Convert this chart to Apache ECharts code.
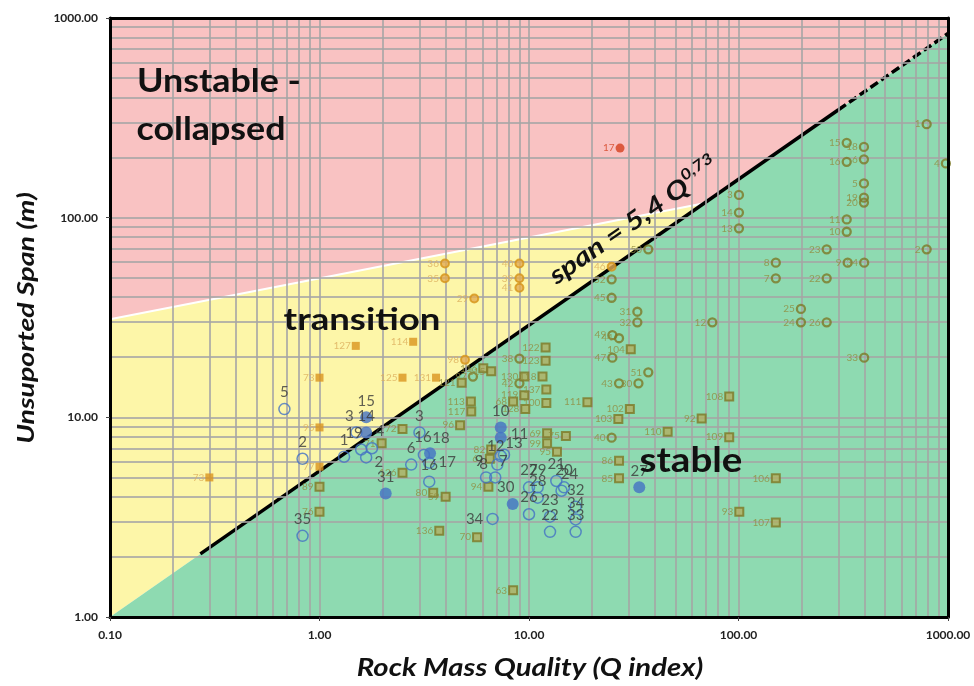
<!DOCTYPE html>
<html>
<head>
<meta charset="utf-8">
<title>Unsupported span vs Q</title>
<script src="https://cdn.jsdelivr.net/npm/echarts@6/dist/echarts.min.js"></script>
<style>
  html, body { margin: 0; padding: 0; background: #fff; }
  #chart { width: 974px; height: 686px; }
</style>
</head>
<body>
<div id="chart"></div>
<script>
// open blue case points (Q, span, label)
const openQ = [0.68, 0.83, 0.83, 1.31, 1.5, 1.58, 1.78, 1.67, 3.0, 2.74, 3.15, 3.34, 3.34, 6.7, 6.24, 6.9, 7.06, 7.33, 7.6,
  10.0, 11.0, 11.0, 10.0, 12.6, 12.6, 13.5, 14.7, 14.3, 16.7, 16.7, 16.7];
const openS = [11.0, 6.2, 2.55, 6.35, 8.4, 6.9, 7.0, 6.3, 8.4, 5.8, 6.48, 5.93, 4.76, 3.1, 5.0, 5.0, 5.8, 6.4, 6.5,
  4.46, 4.46, 3.96, 3.27, 3.18, 2.67, 4.8, 4.46, 4.29, 3.57, 3.08, 2.67];
const openLabels = ['5', '2', '35', '1', '3', '19', '4', '2', '3', '6', '18', '17', '16', '34', '9', '7', '8', '12', '13',
  '27', '29', '28', '26', '23', '22', '21', '20', '24', '32', '34', '33'];
const openPlace = ['t', 't', 't', 't', 'tl', 'tl', 'tr', 'br', 't', 't', 'trr', 'r', 't', 'l', 'tl', 'tr', 'l', 'nl', 'nr',
  't', 't', 't', 't', 't', 't', 't', 't', 'tr', 't', 't', 't'];

// filled blue case points
const filledQ = [1.67, 1.67, 3.37, 2.07, 7.33, 7.33, 8.36, 33.6];
const filledS = [10.0, 8.4, 6.6, 4.16, 8.9, 7.9, 3.68, 4.46];
const filledLabels = ['15', '14', '16', '31', '10', '11', '30', '27'];
const filledPlace = ['t', 't', 'tl', 't', 't', 'ru', 'tl', 't'];

// background database points, transition zone
const yCircQ = [3.97, 3.97, 5.48, 9.0, 9.0, 9.0, 24.8, 4.95];
const yCircS = [59, 49.7, 39.4, 59, 49.7, 44.6, 56.8, 19.4];
const yCircLabels = ['36', '35', '29', '40', '39', '41', '46', '98'];
const ySqQ = [1.49, 2.8, 2.49, 3.6, 1.0, 1.0, 1.0, 0.298];
const ySqS = [22.8, 23.9, 15.8, 15.8, 15.8, 8.9, 5.66, 5.0];
const ySqLabels = ['127', '114', '125', '131', '73', '95', '77', '73'];

// background database points, stable zone
const gCircQ = [37.1, 24.8, 24.8, 32.9, 32.9, 25.0, 26.9, 25.0, 37.1, 26.9, 33.3, 75, 150.7, 150.7, 263.6, 263.6,
  198.6, 198.6, 263.6, 332, 398, 398, 791, 328.5, 397, 328.5, 397, 977, 397, 397, 397, 100.5, 100.5, 100.5,
  328.5, 328.5, 791, 24.8, 9.0, 9.0, 5.4];
const gCircS = [69.4, 49.1, 39.7, 33.8, 29.9, 25.8, 24.9, 19.9, 16.8, 14.8, 14.8, 29.9, 59.5, 49.7, 69.4, 49.7,
  34.9, 29.9, 29.9, 59.5, 59.5, 19.9, 294, 237, 226, 190.5, 196, 187, 148.5, 126, 119, 130, 106, 88.4,
  98, 85, 69.4, 7.91, 19.7, 14.8, 16];
const gCircLabels = ['50', '52', '45', '31', '32', '49', '44', '47', '51', '43', '30', '12', '8', '7', '23', '22',
  '25', '24', '26', '9', '34', '33', '1', '15', '18', '16', '6', '4', '5', '19', '20', '3', '14', '13',
  '11', '10', '2', '40', '38', '42', '97'];
const gSqQ = [30.6, 19.0, 30.3, 26.7, 45.9, 66.7, 90.3, 90.3, 26.9, 26.9, 150.7, 100.9, 150.7, 12.0, 12.0, 9.5,
  11.6, 12.1, 9.5, 8.4, 12.1, 9.6, 5.28, 6.05, 6.6, 4.77, 5.3, 2.49, 1.98, 2.49, 3.49, 4.0, 3.73, 5.65, 8.4,
  1.0, 1.0, 12.2, 15.0, 12.2, 13.6, 6.4, 4.69, 6.6, 6.5];
const gSqS = [21.9, 11.9, 11.0, 9.8, 8.47, 9.88, 12.7, 7.95, 6.06, 4.95, 4.95, 3.37, 2.97, 22.4, 19.2, 16,
  16, 13.8, 12.9, 12.0, 11.8, 11.0, 12.0, 17.6, 17.0, 14.9, 10.7, 8.74, 7.41, 5.28, 4.19, 4.0, 2.7, 2.51, 1.36,
  4.49, 3.37, 8.32, 8.06, 7.41, 6.73, 4.49, 9.13, 6.9, 6.2];
const gSqLabels = ['104', '111', '102', '103', '110', '92', '108', '109', '86', '85', '106', '93', '107', '122', '123', '130',
  '118', '137', '119', '68', '100', '128', '113', '116', '115', '121', '117', '72', '71', '126', '80', '59', '136', '70', '63',
  '89', '76', '69', '75', '99', '95', '94', '96', '82', '61'];

// collapsed case
const redQ = [27.2];
const redS = [223];
const redLabels = ['17'];

// design line span = 5.4 Q^0.73
const lineQ = [0.27, 300, 1000];
const lineS = [2.07, 347, 836];

// zone corners
const redYellowQ = [0.1, 68.6];
const redYellowS = [31, 118];

const xTicks = [0.1, 1, 10, 100, 1000];
const yTicks = [1, 10, 100, 1000];

const FONT = 'Lato, "Open Sans", "Noto Sans", sans-serif';
const chart = echarts.init(document.getElementById('chart'));

function pts(q, s, labels) {
  return q.map((v, i) => ({ value: [v, s[i]], name: labels ? labels[i] : '' }));
}

function zone(points, color) {
  return {
    type: 'custom',
    silent: true,
    z: 1,
    clip: true,
    data: [[1, 1]],
    renderItem: (params, api) => ({
      type: 'polygon',
      shape: { points: points.map((p) => api.coord(p)) },
      style: { fill: color },
    }),
  };
}

// grid lines at every log step
const xGrid = [];
for (let d = 0.1; d < 999; d *= 10) for (let k = 1; k < 10; k++) if (!(d === 0.1 && k === 1)) xGrid.push(+(k * d).toFixed(2));
const yGrid = [];
for (let d = 1; d < 999; d *= 10) for (let k = 1; k < 10; k++) if (!(d === 1 && k === 1)) yGrid.push(k * d);

const place = {
  t: { position: 'top', distance: 3 },
  tl: { position: 'top', distance: 3, offset: [-7, 0] },
  tr: { position: 'top', distance: 3, offset: [8, 0] },
  trr: { position: 'top', distance: 3, offset: [17, 0] },
  nl: { position: 'top', distance: -4, offset: [-5, 0] },
  nr: { position: 'top', distance: -2, offset: [10, 0] },
  l: { position: 'left', distance: 3 },
  r: { position: 'right', distance: 3 },
  ru: { position: 'right', distance: 4, offset: [0, -4] },
  br: { position: 'right', distance: 2, offset: [0, 5] },
};

function blueData(q, s, labels, where) {
  return q.map((v, i) => ({ value: [v, s[i]], name: labels[i], label: place[where[i]] }));
}

const bgLabel = (color) => ({
  show: true, position: 'left', distance: 1, formatter: '{b}',
  fontSize: 10, color: color, fontFamily: FONT,
});

const blueLabel = {
  show: true, formatter: '{b}', fontSize: 15, color: '#3a3a3a', fontFamily: FONT,
};

const yelCorner = [redYellowQ[0], 1];

function bigText(x, y, text, size, sx) {
  return {
    type: 'text', z: 30, x: x, y: y, scaleX: sx,
    style: { text: text, font: 'bold ' + size + 'px ' + FONT, fill: '#111', align: 'center', verticalAlign: 'middle' },
  };
}

const option = {
  animation: false,
  backgroundColor: '#fff',
  grid: { left: 110, right: 26, top: 18, bottom: 69 },
  xAxis: [
    {
      type: 'log', logBase: 10, min: xTicks[0], max: xTicks[xTicks.length - 1], z: 20,
      axisLine: { show: true, lineStyle: { color: '#000', width: 3 } },
      axisTick: { show: true, length: 4, lineStyle: { color: '#444' } },
      splitLine: { show: false },
      axisLabel: {
        margin: 12, fontSize: 12, fontWeight: 'bold', color: '#222', fontFamily: FONT,
        formatter: (v) => Number(v).toFixed(2),
      },
    },
    {
      type: 'log', logBase: 10, min: xTicks[0], max: xTicks[xTicks.length - 1], position: 'top', z: 20,
      axisLine: { show: true, lineStyle: { color: '#000', width: 3 } },
      axisTick: { show: false }, axisLabel: { show: false }, splitLine: { show: false },
    },
  ],
  yAxis: [
    {
      type: 'log', logBase: 10, min: yTicks[0], max: yTicks[yTicks.length - 1], z: 20,
      axisLine: { show: true, lineStyle: { color: '#000', width: 3 } },
      axisTick: { show: true, length: 4, lineStyle: { color: '#444' } },
      splitLine: { show: false },
      axisLabel: {
        margin: 12, fontSize: 12, fontWeight: 'bold', color: '#222', fontFamily: FONT,
        formatter: (v) => Number(v).toFixed(2),
      },
    },
    {
      type: 'log', logBase: 10, min: yTicks[0], max: yTicks[yTicks.length - 1], position: 'right', z: 20,
      axisLine: { show: true, lineStyle: { color: '#000', width: 3 } },
      axisTick: { show: false }, axisLabel: { show: false }, splitLine: { show: false },
    },
  ],
  series: [
    // unstable zone
    zone([[redYellowQ[0], redYellowS[0]], [redYellowQ[1], redYellowS[1]], [lineQ[2], lineS[2]],
      [xTicks[4], yTicks[3]], [xTicks[0], yTicks[3]]], '#f9c2c2'),
    // transition zone
    zone([yelCorner, [redYellowQ[0], redYellowS[0]], [redYellowQ[1], redYellowS[1]]], '#fdf6a8'),
    // stable zone
    zone([yelCorner, [lineQ[2], lineS[2]], [xTicks[4], yTicks[0]]], '#8edab1'),
    {
      type: 'line', z: 2, silent: true, data: [], symbol: 'none',
      markLine: {
        silent: true, symbol: 'none', animation: false,
        label: { show: false },
        lineStyle: { color: 'rgba(165,165,165,0.8)', width: 2, type: 'solid' },
        data: xGrid.map((v) => ({ xAxis: v })).concat(yGrid.map((v) => ({ yAxis: v }))),
      },
    },
    // white edge of transition zone
    {
      type: 'line', z: 3, silent: true, symbol: 'none',
      data: pts(redYellowQ, redYellowS),
      lineStyle: { color: '#ffffff', width: 2 },
    },
    // design line
    {
      type: 'line', z: 4, silent: true, symbol: 'none',
      data: pts(lineQ.slice(0, 2), lineS.slice(0, 2)),
      lineStyle: { color: '#000', width: 3.5 },
    },
    {
      type: 'line', z: 4, silent: true, symbol: 'none',
      data: pts(lineQ.slice(1), lineS.slice(1)),
      lineStyle: { color: '#000', width: 3.5, type: [9, 4] },
    },
    {
      type: 'scatter', z: 5, symbol: 'circle', symbolSize: 8,
      data: pts(yCircQ, yCircS, yCircLabels),
      itemStyle: { color: '#e3ad52', borderColor: '#d69418', borderWidth: 2 },
      label: bgLabel('#dcae5c'),
    },
    {
      type: 'scatter', z: 5, symbol: 'rect', symbolSize: 8,
      data: pts(ySqQ, ySqS, ySqLabels),
      itemStyle: { color: '#d9951e' },
      label: bgLabel('#dcae5c'),
    },
    {
      type: 'scatter', z: 5, symbol: 'circle', symbolSize: 8,
      data: pts(gCircQ, gCircS, gCircLabels),
      itemStyle: { color: 'rgba(0,0,0,0)', borderColor: '#7d7825', borderWidth: 2.3 },
      label: bgLabel('#918c3e'),
    },
    {
      type: 'scatter', z: 5, symbol: 'rect', symbolSize: 8,
      data: pts(gSqQ, gSqS, gSqLabels),
      itemStyle: { color: '#b2ae62', borderColor: '#7d7825', borderWidth: 2 },
      label: bgLabel('#918c3e'),
    },
    {
      type: 'scatter', z: 5, symbol: 'circle', symbolSize: 9,
      data: pts(redQ, redS, redLabels),
      itemStyle: { color: '#d5401e' },
      label: bgLabel('#d5401e'),
    },
    {
      type: 'scatter', z: 6, symbol: 'circle', symbolSize: 11,
      data: blueData(openQ, openS, openLabels, openPlace),
      itemStyle: { color: 'rgba(0,0,0,0)', borderColor: '#4472c4', borderWidth: 1.5 },
      label: blueLabel,
    },
    {
      type: 'scatter', z: 6, symbol: 'circle', symbolSize: 12,
      data: blueData(filledQ, filledS, filledLabels, filledPlace),
      itemStyle: { color: '#4472c4' },
      label: blueLabel,
    },
  ],
  graphic: [
    bigText(219, 82, 'Unstable -', 32, 1.12),
    bigText(211, 130, 'collapsed', 32, 1.12),
    bigText(362, 320, 'transition', 31, 1.18),
    bigText(691, 461, 'stable', 35, 1.1),
    {
      type: 'text', z: 30, x: 634, y: 221, rotation: 0.61, scaleX: 1.22,
      style: {
        text: '{a|span = 5,4 Q}{b|0,73}', align: 'center', verticalAlign: 'middle',
        rich: {
          a: { font: 'italic bold 25px ' + FONT, fill: '#111', lineHeight: 32 },
          b: { font: 'italic bold 15px ' + FONT, fill: '#111', verticalAlign: 'top', lineHeight: 32, padding: [0, 0, 10, 0] },
        },
      },
    },
    {
      type: 'text', z: 30, x: 530, y: 668, scaleX: 1.22,
      style: { text: 'Rock Mass Quality (Q index)', font: 'italic bold 24px ' + FONT, fill: '#111', align: 'center', verticalAlign: 'middle' },
    },
    {
      type: 'text', z: 30, x: 27, y: 318, rotation: Math.PI / 2, scaleX: 1.24,
      style: { text: 'Unsuported Span (m)', font: 'italic bold 23px ' + FONT, fill: '#111', align: 'center', verticalAlign: 'middle' },
    },
  ],
};

chart.setOption(option);
window.addEventListener('resize', () => chart.resize());
</script>
</body>
</html>
